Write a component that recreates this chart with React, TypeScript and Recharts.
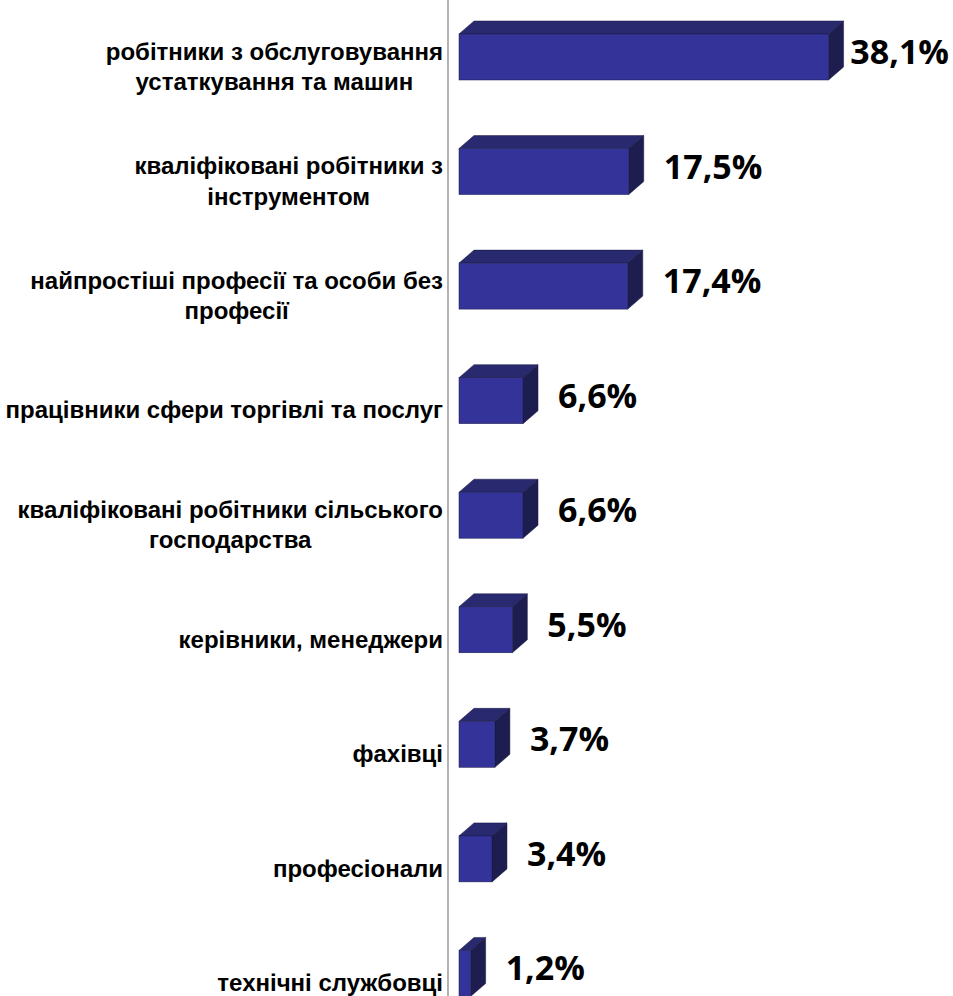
import React from 'react';
import { BarChart, Bar, XAxis, YAxis, LabelList } from 'recharts';

// categories (line breaks as in the source slide)
const categories = [
  'робітники з обслуговування\nустаткування та машин',
  'кваліфіковані робітники з\nінструментом',
  'найпростіші професії та особи без\nпрофесії',
  'працівники сфери торгівлі та послуг',
  'кваліфіковані робітники сільського\nгосподарства',
  'керівники, менеджери',
  'фахівці',
  'професіонали',
  'технічні службовці',
];

const shares = [38.1, 17.5, 17.4, 6.6, 6.6, 5.5, 3.7, 3.4, 1.2];

const data = categories.map((name, i) => ({ name, value: shares[i] }));

const FRONT = '#333399';
const TOP = '#29296f';
const SIDE = '#1d1d4f';
const DX = 15;
const DY = 13;
const GAP = 11; // floor gap between axis and bar start
const CHART_W = 953;

const TICK_FONT = "bold 24px 'Liberation Sans'";
const VALUE_FONT = "bold 34px 'Open Sans'";
let ctx: CanvasRenderingContext2D | null = null;
function textWidth(s: string, font: string) {
  if (!ctx) ctx = document.createElement('canvas').getContext('2d');
  if (!ctx) return s.length * 12;
  ctx.font = font;
  return ctx.measureText(s).width;
}

const Box3D = (props: any) => {
  const { x, y, width, height } = props;
  const x0 = x + GAP;
  const w = Math.max(width, 0);
  return (
    <g>
      <polygon
        points={`${x0},${y} ${x0 + DX},${y - DY} ${x0 + w + DX},${y - DY} ${x0 + w},${y}`}
        fill={TOP} stroke="#1a1a45" strokeWidth={0.5}
      />
      <polygon
        points={`${x0 + w},${y} ${x0 + w + DX},${y - DY} ${x0 + w + DX},${y + height - DY} ${x0 + w},${y + height}`}
        fill={SIDE} stroke="#1a1a45" strokeWidth={0.5}
      />
      <rect x={x0} y={y} width={w} height={height} fill={FRONT} stroke="#1a1a45" strokeWidth={0.5} />
    </g>
  );
};

const ValueLabel = (props: any) => {
  const { x, y, width, height, value } = props;
  const txt = String(value).replace('.', ',') + '%';
  const tw = textWidth(txt, VALUE_FONT);
  const tx = Math.min(x + GAP + width + DX + 20, CHART_W - 4 - tw);
  const ty = y + height / 2 - 6;
  return (
    <text x={tx} y={ty} dominantBaseline="central" fontFamily="'Open Sans', sans-serif"
      fontWeight="bold" fontSize={34} fill="#000">
      {txt}
    </text>
  );
};

const CategoryTick = (props: any) => {
  const { x, y, payload } = props;
  const lines: string[] = String(payload.value).split('\n');
  const maxW = Math.max(...lines.map((l) => textWidth(l, TICK_FONT)));
  const cx = x - maxW / 2;
  const lh = 30.5;
  const startY = y + 9 - ((lines.length - 1) * lh) / 2;
  return (
    <g>
      {lines.map((ln, i) => (
        <text key={i} x={cx} y={startY + i * lh} textAnchor="middle" dominantBaseline="central"
          fontFamily="'Liberation Sans', Arial, sans-serif" fontWeight="bold" fontSize={24} fill="#000">
          {ln}
        </text>
      ))}
    </g>
  );
};

export default function App() {
  return (
    <div style={{ position: 'absolute', top: 0, left: 0, width: CHART_W, height: 996, overflow: 'hidden', background: '#fff' }}>
      <BarChart
        width={CHART_W}
        height={1031}
        data={data}
        layout="vertical"
        margin={{ top: 0, right: 20, bottom: 0, left: 0 }}
      >
        <XAxis type="number" domain={[0, 50]} hide />
        <YAxis
          type="category"
          dataKey="name"
          width={448}
          axisLine={{ stroke: '#999999', strokeWidth: 1.5 }}
          tickLine={false}
          tickSize={0}
          tickMargin={5}
          tick={<CategoryTick />}
          interval={0}
        />
        <Bar dataKey="value" barSize={46} shape={<Box3D />} isAnimationActive={false}>
          <LabelList dataKey="value" content={<ValueLabel />} />
        </Bar>
      </BarChart>
    </div>
  );
}
